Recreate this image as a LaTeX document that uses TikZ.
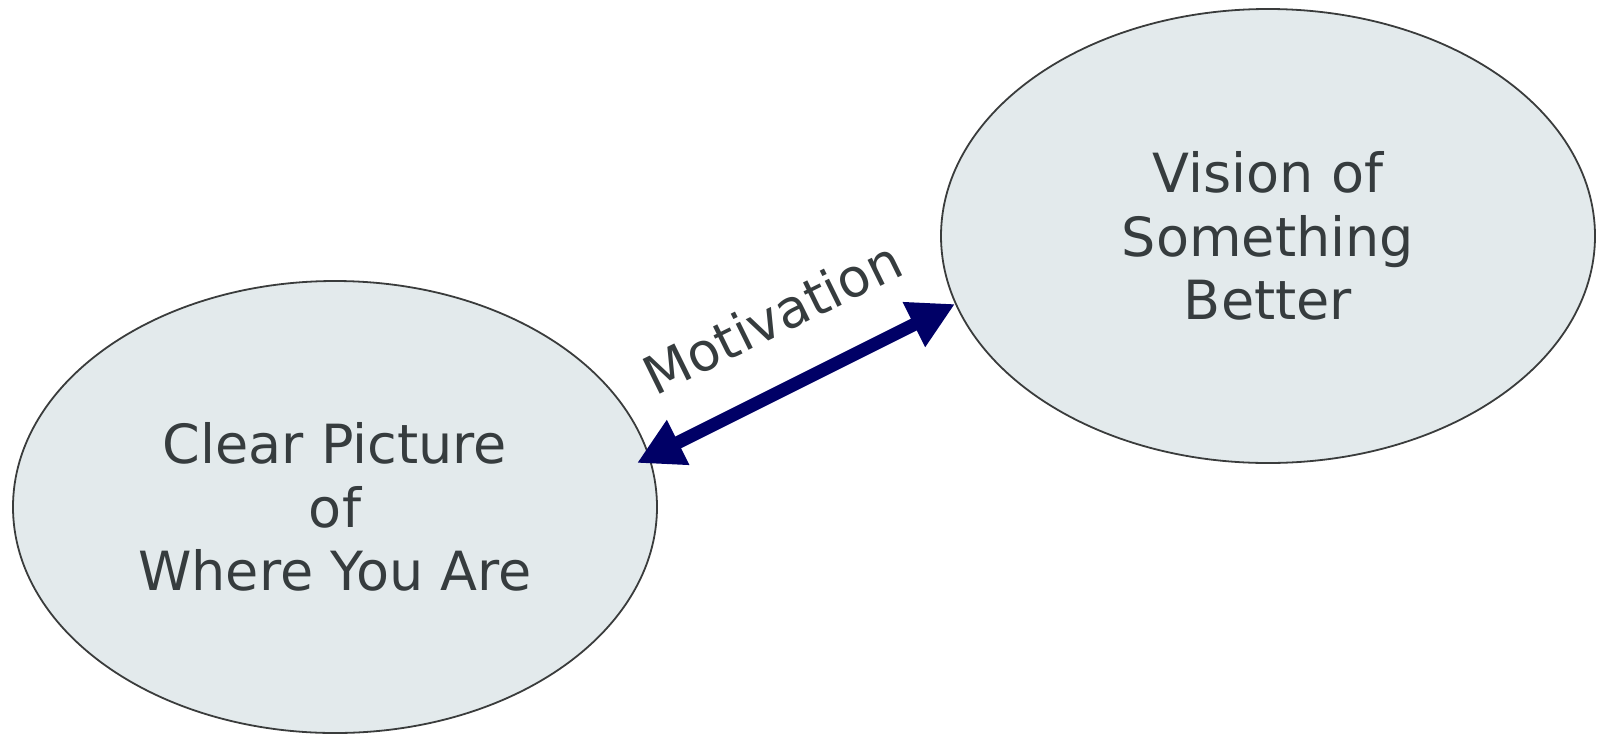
\documentclass[tikz,border=0pt]{standalone}
\usepackage{fontspec}
\setmainfont{DejaVu Sans}
\usetikzlibrary{arrows.meta,shapes.geometric}
\definecolor{ellfill}{RGB}{227,234,236}
\definecolor{ellline}{RGB}{58,60,60}
\definecolor{txt}{RGB}{54,60,62}
\definecolor{navy}{RGB}{0,0,102}
\begin{document}
\begin{tikzpicture}[x=1pt,y=-1pt,
  bubble/.style={ellipse, draw=ellline, line width=1.8pt, fill=ellfill,
    text=txt, align=center, inner sep=0pt,
    font=\fontsize{54}{63.5}\selectfont},
  link/.style={navy, line width=13pt, line join=miter,
    {Triangle[length=46pt,width=47pt]}-{Triangle[length=46pt,width=47pt]}},
  lbl/.style={text=txt, font=\fontsize{53}{63.5}\selectfont, inner sep=0pt}]
\useasboundingbox (0,0) rectangle (1597,734);
\node[bubble, minimum width=644pt, minimum height=452pt] (L) at (335,507)
  {Clear Picture\\of\\Where You Are};
\node[bubble, minimum width=654pt, minimum height=454pt] (R) at (1268,236)
  {Vision of\\Something\\Better};
\coordinate (la) at (637,463);
\coordinate (ra) at (955,304);
\draw[link] (la) -- (ra);
\node[lbl, anchor=base, rotate=26.2] (M) at (781,335) {Motivation};
\end{tikzpicture}
\end{document}
